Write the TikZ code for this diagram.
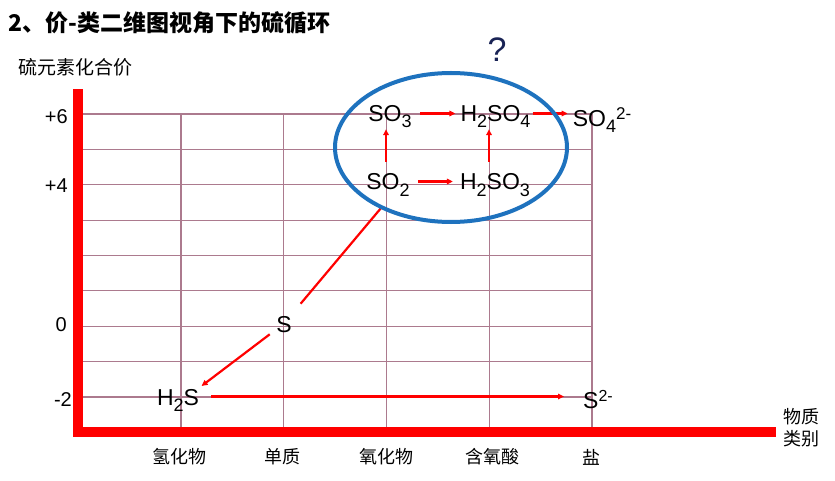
\documentclass[tikz,border=0pt]{standalone}
\usepackage{fontspec}
\setmainfont{Liberation Sans}
\newfontfamily\cjk{Noto Sans CJK SC}
\usetikzlibrary{arrows.meta, shapes.geometric}

\definecolor{axisred}{RGB}{255,0,0}
\definecolor{gridmauve}{RGB}{172,122,142}
\definecolor{cycleblue}{RGB}{30,114,190}
\definecolor{asknavy}{RGB}{25,35,85}

% chemical sub- and superscripts
\newcommand\chsub[1]{\raisebox{-6pt}{\fontsize{18}{18}\selectfont #1}}
\newcommand\chsup[2][17]{\raisebox{7pt}{\fontsize{#1}{#1}\selectfont #2}}

\begin{document}
\begin{tikzpicture}[
    x=1pt, y=-1pt,
    >={Triangle[length=6pt, width=5.5pt]},
    chem/.style={inner sep=0pt, anchor=base, text height=17pt, text depth=0pt, font=\fontsize{23}{27}\selectfont},
    tick/.style={inner sep=0pt, anchor=east, font=\fontsize{20}{24}\selectfont},
    cat/.style={inner sep=0pt, align=center, font=\cjk\fontsize{18}{22}\selectfont},
    grid line/.style={draw=gridmauve, line width=1.1pt},
    axis bar/.style={fill=axisred},
    arrow/.style={->, draw=axisred, line width=2.5pt},
]
\useasboundingbox (0,0) rectangle (835,481);

% Grid
\foreach \i in {0,...,8}
    \draw[grid line] (83,{114+35.375*\i}) -- (592,{114+35.375*\i});
\foreach \i in {0,...,4}
    \draw[grid line] ({181+102.75*\i},114) -- ({181+102.75*\i},427);

% Axes
\fill[axis bar] (73,89) rectangle (83,437);
\fill[axis bar] (73,427) rectangle (776,437);

% Title and axis labels
\node[inner sep=0pt, anchor=west, font=\cjk\bfseries\fontsize{23}{27}\selectfont] (title) at (8,22.5) {2、价-类二维图视角下的硫循环};
\node[cat, font=\cjk\fontsize{19}{22}\selectfont] (yname) at (76,67) {硫元素化合价};
\node[cat] (xname) at (801,428) {物质\\类别};

% Valence ticks
\node[tick] (v6) at (68,116.5) {+6};
\node[tick] (v4) at (68,185.5) {+4};
\node[tick] (v0) at (67,324.5) {0};
\node[tick] (vm2) at (72,400) {-2};

% Categories
\node[cat] (hyd) at (179,457) {氢化物};
\node[cat] (elem) at (282,457) {单质};
\node[cat] (oxi) at (386,457) {氧化物};
\node[cat] (acid) at (492,457) {含氧酸};
\node[cat] (salt) at (591.5,457) {盐};

% Species
\node[chem] (so3) at (390,122) {SO\chsub{3}};
\node[chem] (h2so4) at (495.5,122) {H\chsub{2}SO\chsub{4}};
\node[chem] (so4) at (602,127) {SO\chsub{4}\chsup{2-}};
\node[chem] (so2) at (388,190) {SO\chsub{2}};
\node[chem] (h2so3) at (495,190) {H\chsub{2}SO\chsub{3}};
\node[chem] (s) at (284,332) {S};
\node[chem] (h2s) at (178,405) {H\chsub{2}S};
\node[chem] (s2) at (598,408) {S\chsup[16]{2-}};

% Conversions
\draw[arrow, shorten <=8pt, shorten >=5pt] (so3) -- (h2so4);
\draw[arrow, shorten <=2pt, shorten >=5pt] (h2so4.east) -- (h2so4.east -| so4.west);
\draw[arrow, shorten <=8pt, shorten >=7pt] (so2) -- (h2so3);
\draw[arrow, shorten <=11pt, shorten >=7pt] ([xshift=-2pt]so2.north) -- ([xshift=-2pt]so2.north |- so3.south);
\draw[arrow, shorten <=11pt, shorten >=7pt] ([xshift=-6pt]h2so3.north) -- ([xshift=-6pt]h2so3.north |- h2so4.south);
\draw[draw=axisred, line width=2.2pt, shorten <=14.5pt, shorten >=23pt] (s) -- ([xshift=8pt]so2.south);
\draw[arrow, line width=2.2pt, shorten <=8pt, shorten >=3pt] (s) -- (h2s.north east);
\draw[arrow, shorten <=12pt, shorten >=19pt] (h2s) -- (h2s -| s2.west);

% Cycle ring
\node[ellipse, draw=cycleblue, line width=4pt, minimum width=232pt, minimum height=149pt, inner sep=0pt] (ring) at (451,147.5) {};
\node[inner sep=0pt, text=asknavy, font=\fontsize{34}{34}\selectfont] (ask) at (497,50) {?};

\end{tikzpicture}
\end{document}
